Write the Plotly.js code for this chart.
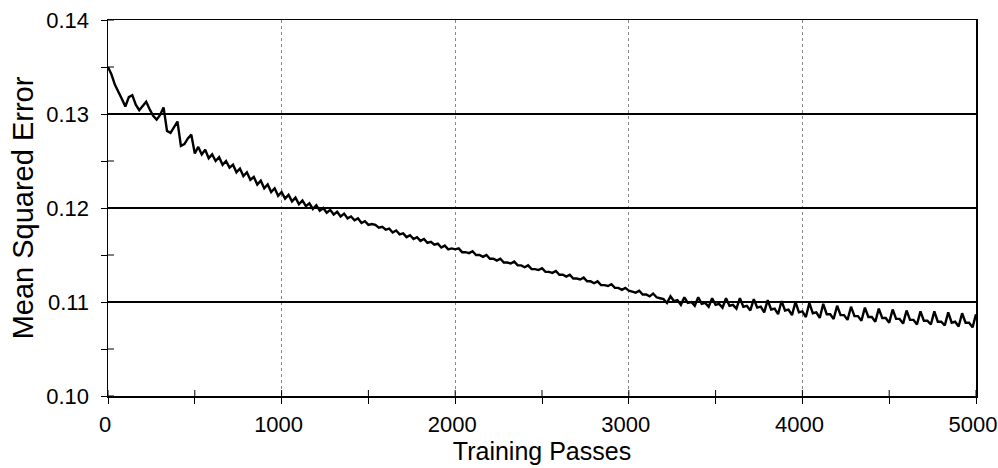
<!DOCTYPE html>
<html>
<head>
<meta charset="utf-8">
<script src="https://cdn.plot.ly/plotly-3.0.1.min.js"></script>
<style>html,body{margin:0;padding:0;background:#fff;}#chart{width:998px;height:468px;}</style>
</head>
<body>
<div id="chart"></div>
<script>
// Training passes sampled every 20 passes, starting at 0
const passStart = 0;
const passStep = 20;

// Mean squared error (one value every 20 passes, 0..5000)
const mse = [
  0.1350, 0.1342, 0.1331, 0.1324, 0.1316, 0.1308, 0.1318, 0.1320, 0.1310, 0.1304,
  0.1308, 0.1313, 0.1305, 0.1298, 0.1294, 0.1299, 0.1307, 0.1282, 0.1280, 0.1286,
  0.1292, 0.1266, 0.1268, 0.1274, 0.1278, 0.1258, 0.1265, 0.1257, 0.1262, 0.1253,
  0.1257, 0.1250, 0.1254, 0.1246, 0.1250, 0.1243, 0.1246, 0.1238, 0.1242, 0.1234,
  0.1238, 0.1230, 0.1233, 0.1225, 0.1229, 0.1221, 0.1225, 0.1217, 0.1221, 0.1213,
  0.1217, 0.1210, 0.1214, 0.1207, 0.1211, 0.1204, 0.1208, 0.1202, 0.1205, 0.1199,
  0.1203, 0.1197, 0.1200, 0.1195, 0.1198, 0.1193, 0.1196, 0.1191, 0.1194, 0.1189,
  0.1191, 0.1187, 0.1189, 0.1184, 0.1186, 0.1182, 0.1183, 0.1182, 0.1179, 0.1180,
  0.1177, 0.1178, 0.1174, 0.1176, 0.1172, 0.1173, 0.1169, 0.1171, 0.1167, 0.1169,
  0.1165, 0.1167, 0.1163, 0.1164, 0.1161, 0.1162, 0.1158, 0.1160, 0.1156, 0.1157,
  0.1156, 0.1157, 0.1153, 0.1153, 0.1152, 0.1154, 0.1150, 0.1150, 0.1148, 0.1150,
  0.1146, 0.1146, 0.1144, 0.1146, 0.1142, 0.1142, 0.1141, 0.1143, 0.1139, 0.1139,
  0.1137, 0.1139, 0.1135, 0.1135, 0.1134, 0.1136, 0.1132, 0.1132, 0.1131, 0.1133,
  0.1129, 0.1129, 0.1127, 0.1129, 0.1125, 0.1125, 0.1124, 0.1126, 0.1122, 0.1122,
  0.1120, 0.1122, 0.1118, 0.1118, 0.1117, 0.1119, 0.1115, 0.1115, 0.1113, 0.1115,
  0.1112, 0.1111, 0.1110, 0.1112, 0.1108, 0.1108, 0.1106, 0.1109, 0.1105, 0.1104,
  0.1103, 0.1099, 0.1106, 0.1101, 0.1102, 0.1097, 0.1105, 0.1099, 0.1100, 0.1096,
  0.1105, 0.1098, 0.1099, 0.1095, 0.1104, 0.1097, 0.1098, 0.1094, 0.1104, 0.1096,
  0.1097, 0.1093, 0.1104, 0.1095, 0.1096, 0.1091, 0.1103, 0.1094, 0.1095, 0.1089,
  0.1102, 0.1092, 0.1093, 0.1087, 0.1101, 0.1091, 0.1092, 0.1086, 0.1100, 0.1089,
  0.1090, 0.1084, 0.1099, 0.1088, 0.1089, 0.1083, 0.1098, 0.1087, 0.1087, 0.1082,
  0.1096, 0.1086, 0.1086, 0.1081, 0.1095, 0.1085, 0.1085, 0.1080, 0.1094, 0.1084,
  0.1084, 0.1079, 0.1093, 0.1083, 0.1083, 0.1078, 0.1092, 0.1082, 0.1082, 0.1077,
  0.1091, 0.1081, 0.1081, 0.1076, 0.1090, 0.1080, 0.1080, 0.1076, 0.1090, 0.1079,
  0.1079, 0.1075, 0.1089, 0.1078, 0.1079, 0.1074, 0.1088, 0.1078, 0.1078, 0.1073,
  0.1087
];

const xTickVals = [0, 1000, 2000, 3000, 4000, 5000];
const xTickText = ['0', '1000', '2000', '3000', '4000', '5000'];
const yTickVals = [0.10, 0.11, 0.12, 0.13, 0.14];
const yTickText = ['0.10', '0.11', '0.12', '0.13', '0.14'];
// all tick positions (major and minor) where the tick marks cross the axis line
const xTickMarks = [0, 500, 1000, 1500, 2000, 2500, 3000, 3500, 4000, 4500, 5000];
const yTickMarks = [0.10, 0.105, 0.11, 0.115, 0.12, 0.125, 0.13, 0.135, 0.14];

const X_MIN = 0, X_MAX = 5000, Y_MIN = 0.10, Y_MAX = 0.14;
const FONT = '"Liberation Sans", Arial, sans-serif';

const traces = [
  {
    type: 'scatter', mode: 'lines',
    x0: passStart, dx: passStep, y: mse,
    line: {color: '#000', width: 2.4},
    hoverinfo: 'skip', showlegend: false
  }
];

// inner halves of the crossing tick marks
const shapes = [];
xTickMarks.forEach(v => shapes.push({
  type: 'line', xref: 'x', yref: 'y', ysizemode: 'pixel', yanchor: Y_MIN,
  x0: v, x1: v, y0: 0, y1: 6, line: {color: '#000', width: 1}, layer: 'above'
}));
yTickMarks.forEach(v => shapes.push({
  type: 'line', xref: 'x', yref: 'y', xsizemode: 'pixel', xanchor: X_MIN,
  y0: v, y1: v, x0: 0, x1: 6, line: {color: '#000', width: 1}, layer: 'above'
}));

const layout = {
  width: 998, height: 468,
  margin: {l: 108, r: 22, t: 20, b: 72},
  paper_bgcolor: '#fff', plot_bgcolor: '#fff',
  font: {family: FONT, color: '#000', size: 22},
  showlegend: false,
  shapes: shapes,
  xaxis: {
    range: [X_MIN, X_MAX], tickvals: xTickVals, ticktext: xTickText,
    ticks: 'outside', ticklen: 6, tickwidth: 1, tickcolor: '#000',
    minor: {dtick: 500, tick0: 0, ticks: 'outside', ticklen: 6, tickcolor: '#000', showgrid: false},
    showgrid: true, gridcolor: '#888', gridwidth: 1, griddash: 'dot',
    showline: true, linecolor: '#000', linewidth: 1.5, mirror: true,
    zeroline: false, ticklabelstandoff: 2, ticklabeloverflow: 'allow', ticklabelshift: -3,
    tickfont: {family: FONT, size: 22},
    title: {text: 'Training Passes', font: {family: FONT, size: 25}, standoff: 6}
  },
  yaxis: {
    range: [Y_MIN, Y_MAX], tickvals: yTickVals, ticktext: yTickText,
    ticks: 'outside', ticklen: 6, tickwidth: 1, tickcolor: '#000',
    minor: {dtick: 0.005, tick0: 0.10, ticks: 'outside', ticklen: 6, tickcolor: '#000', showgrid: false},
    showgrid: true, gridcolor: '#000', gridwidth: 1.5,
    showline: true, linecolor: '#000', linewidth: 1.5, mirror: true,
    zeroline: false, ticklabelstandoff: 7,
    tickfont: {family: FONT, size: 22},
    title: {text: 'Mean Squared Error', font: {family: FONT, size: 29}, standoff: 4}
  }
};

Plotly.newPlot('chart', traces, layout, {staticPlot: true, displayModeBar: false});
</script>
</body>
</html>
